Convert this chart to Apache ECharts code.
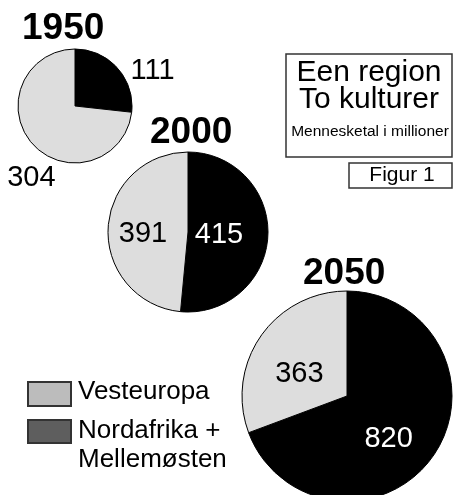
<!DOCTYPE html>
<html>
<head>
<meta charset="utf-8">
<script src="https://cdn.jsdelivr.net/npm/echarts@6/dist/echarts.min.js"></script>
<style>
  html, body { margin: 0; padding: 0; background: #fff; }
  #chart { width: 468px; height: 495px; }
</style>
</head>
<body>
<div id="chart"></div>
<script>
// data
const years = ['1950', '2000', '2050'];
const regionNames = ['Nordafrika + Mellemøsten', 'Vesteuropa'];
const nordafrika = [111, 415, 820];
const vesteuropa = [304, 391, 363];

// layout for each pie (center, radius, title position)
const pieCenters = [[75, 106], [188, 232], [347, 396]];
const pieRadius = [57, 80, 105];
const titlePos = [[22, 10], [150, 114], [303, 255]];
// small nudges of the value labels: [black slice, gray slice]
const labelShift = [
  [[0, 3], [36, 34]],
  [[-12, 1], [-2, 4]],
  [[-4, 11], [-2, 10]]
];

const font = '"Liberation Sans"';
const black = '#000000';
const lightGray = '#dddddd';

var chart = echarts.init(document.getElementById('chart'));

let series = years.map(function (y, i) {
  let inside = i > 0;
  return {
    name: y,
    type: 'pie',
    center: pieCenters[i],
    radius: pieRadius[i],
    startAngle: 90,
    clockwise: true,
    silent: true,
    animation: false,
    avoidLabelOverlap: false,
    itemStyle: { borderColor: '#000', borderWidth: 1 },
    label: {
      show: true,
      position: inside ? 'inside' : 'outside',
      formatter: '{c}',
      fontFamily: font,
      fontSize: 29,
      color: '#000'
    },
    labelLine: { show: false, length: 0, length2: 8 },
    labelLayout: function (p) {
      let s = labelShift[i][p.dataIndex];
      return { dx: s[0], dy: s[1] };
    },
    data: [
      {
        name: regionNames[0],
        value: nordafrika[i],
        itemStyle: { color: black },
        label: { color: inside ? '#fff' : '#000' }
      },
      {
        name: regionNames[1],
        value: vesteuropa[i],
        itemStyle: { color: lightGray }
      }
    ]
  };
});

let titles = years.map(function (y, i) {
  return {
    text: y,
    left: titlePos[i][0],
    top: titlePos[i][1],
    padding: 0,
    textStyle: { fontFamily: font, fontSize: 37, fontWeight: 'bold', color: '#000' }
  };
});

let option = {
  backgroundColor: '#fff',
  title: titles,
  series: series,
  graphic: [
    // info box
    { type: 'rect', shape: { x: 286, y: 54, width: 166, height: 103 },
      style: { fill: 'none', stroke: '#333', lineWidth: 1.5 } },
    { type: 'text', x: 369, y: 58, style: { text: 'Een region', fontFamily: font, fontSize: 30, fill: '#000', align: 'center' } },
    { type: 'text', x: 369, y: 85, style: { text: 'To kulturer', fontFamily: font, fontSize: 30, fill: '#000', align: 'center' } },
    { type: 'text', x: 370, y: 124, style: { text: 'Mennesketal i millioner', fontFamily: font, fontSize: 15.5, fill: '#000', align: 'center' } },
    { type: 'rect', shape: { x: 349, y: 163, width: 103, height: 25 },
      style: { fill: 'none', stroke: '#333', lineWidth: 1.5 } },
    { type: 'text', x: 402, y: 165, style: { text: 'Figur 1', fontFamily: font, fontSize: 21, fill: '#000', align: 'center' } },
    // legend
    { type: 'rect', shape: { x: 28, y: 382, width: 43, height: 24 },
      style: { fill: '#bcbcbc', stroke: '#333', lineWidth: 2 } },
    { type: 'rect', shape: { x: 28, y: 420, width: 43, height: 23 },
      style: { fill: '#5e5e5e', stroke: '#333', lineWidth: 2 } },
    { type: 'text', x: 78, y: 379, style: { text: regionNames[1], fontFamily: font, fontSize: 26, fill: '#000' } },
    { type: 'text', x: 78, y: 416, style: { text: 'Nordafrika +\nMellemøsten', fontFamily: font, fontSize: 26, lineHeight: 29, fill: '#000' } }
  ]
};

chart.setOption(option);
</script>
</body>
</html>
